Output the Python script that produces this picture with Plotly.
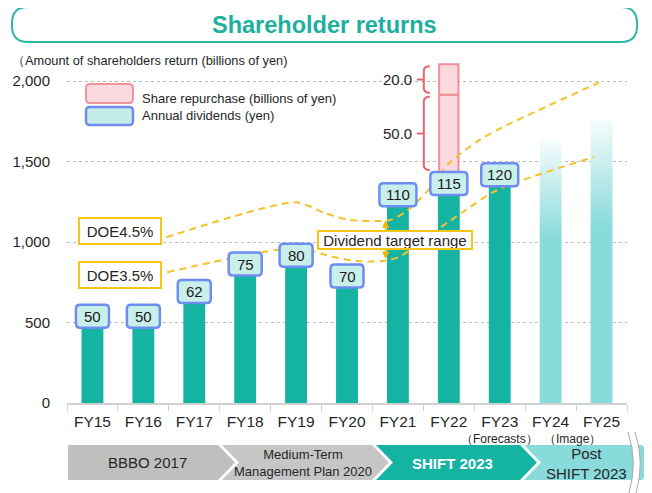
import plotly.graph_objects as go

# ---------------- data ----------------
categories = ["FY15", "FY16", "FY17", "FY18", "FY19", "FY20", "FY21", "FY22", "FY23", "FY24", "FY25"]
returns_actual = [610, 610, 765, 935, 990, 860, 1365, 1435, 1490]      # FY15-FY23
dividend_labels = ["50", "50", "62", "75", "80", "70", "110", "115", "120"]
image_returns = [1630, 1755]                                            # FY24, FY25 (image)
repurchase_heights = [480, 190]                                         # FY22 share repurchase
repurchase_labels = ["50.0", "20.0"]
doe45_x = [1.45, 4.0, 4.55, 5.0, 5.85, 6.2, 6.6, 7.0, 7.6, 8.05, 9.95]
doe45_y = [1030, 1247, 1182, 1140, 1137, 1199, 1324, 1490, 1634, 1713, 1992]
doe35_x = [1.47, 4.0, 4.7, 5.2, 5.7, 6.0, 6.45, 6.85, 7.25, 7.95, 9.85]
doe35_y = [813, 963, 910, 882, 882, 905, 994, 1094, 1181, 1324, 1529]
y_ticks = [0, 500, 1000, 1500, 2000]
y_ticklabels = ["0", "500", "1,000", "1,500", "2,000"]
plans = ["BBBO 2017", "Medium-Term<br>Management Plan 2020", "SHIFT 2023", "Post<br>SHIFT 2023"]

# ---------------- layout helpers ----------------
# the page body has an 8px margin, so the figure is sized to fit the window
W, H = 644, 485
ML, MR, MT, MB = 59, 25, 41, 90
PW, PH = W - ML - MR, H - MT - MB
PX0, PY1 = 67, 403          # plot-area left / bottom in window pixels
FONT = "Liberation Sans, Arial, sans-serif"
TEAL = "#15B3A2"
LTEAL = "#88DADB"
YEL = "#F6C22C"
DARK = "#262626"


def fx(p):
    return (p - PX0) / PW


def fy(p):
    return (PY1 - p) / PH


def rrect(x0, y0, x1, y1, r):
    pts = [
        f"M{fx(x0 + r)},{fy(y0)}", f"L{fx(x1 - r)},{fy(y0)}", f"Q{fx(x1)},{fy(y0)} {fx(x1)},{fy(y0 + r)}",
        f"L{fx(x1)},{fy(y1 - r)}", f"Q{fx(x1)},{fy(y1)} {fx(x1 - r)},{fy(y1)}",
        f"L{fx(x0 + r)},{fy(y1)}", f"Q{fx(x0)},{fy(y1)} {fx(x0)},{fy(y1 - r)}",
        f"L{fx(x0)},{fy(y0 + r)}", f"Q{fx(x0)},{fy(y0)} {fx(x0 + r)},{fy(y0)}", "Z",
    ]
    return " ".join(pts)


def poly(points):
    s = "M" + " L".join(f"{fx(a)},{fy(b)}" for a, b in points)
    return s + " Z"


def ptext(px, py, text, size, color=DARK, anchor="center"):
    return dict(xref="paper", yref="paper", x=fx(px), y=fy(py), xanchor=anchor, yanchor="middle",
                text=text, showarrow=False, font=dict(size=size, color=color, family=FONT))


fig = go.Figure()

# actual bars
fig.add_trace(go.Bar(x=list(range(len(returns_actual))), y=returns_actual, width=0.43,
                     marker=dict(color=TEAL, line=dict(width=0)), hoverinfo="skip"))

# share repurchase (FY22)
i22 = categories.index("FY22")
rep_base = [returns_actual[i22], returns_actual[i22] + repurchase_heights[0]]
fig.add_trace(go.Bar(x=[i22, i22], y=repurchase_heights, base=rep_base, width=0.38,
                     marker=dict(color="#FADADE", line=dict(color="#EE9099", width=2)), hoverinfo="skip"))

# image bars with vertical gradient
hw = 0.43 / 2
for k, v in enumerate(image_returns):
    i = len(returns_actual) + k
    fig.add_trace(go.Scatter(
        x=[i - hw, i + hw, i + hw, i - hw, i - hw], y=[0, 0, v, v, 0],
        fill="toself", mode="none", hoverinfo="skip",
        fillgradient=dict(type="vertical",
                          colorscale=[[0, LTEAL], [0.62, LTEAL], [1, "#F5FCFC"]])))

# DOE lines
for xs, ys in [(doe45_x, doe45_y), (doe35_x, doe35_y)]:
    fig.add_trace(go.Scatter(x=xs, y=ys, mode="lines", hoverinfo="skip",
                             line=dict(color=YEL, width=2, dash="7px,5px", shape="spline", smoothing=0.7)))

shapes = []
annotations = []

# title box
shapes.append(dict(type="path", xref="paper", yref="paper", path=rrect(12, 7, 637, 42, 16),
                   line=dict(color="#2BB6A6", width=2), fillcolor="white"))
annotations.append(ptext(324, 25, "<b>Shareholder returns</b>", 23.5, "#1DB0A0"))
annotations.append(ptext(10, 60, "（Amount of shareholders return (billions of yen)", 12.8, anchor="left"))

# legend
shapes.append(dict(type="path", xref="paper", yref="paper", path=rrect(86, 84, 133, 103, 4),
                   line=dict(color="#F0949C", width=2), fillcolor="#FADADE"))
shapes.append(dict(type="path", xref="paper", yref="paper", path=rrect(86, 107, 133, 125, 4),
                   line=dict(color="#6E8DF0", width=2.5), fillcolor="#C4EDE8"))
annotations.append(ptext(140, 98, "Share repurchase (billions of yen)", 13, anchor="left"))
annotations.append(ptext(140, 115.5, "Annual dividends (yen)", 13, anchor="left"))

# dividend label boxes
for i, (v, t) in enumerate(zip(returns_actual, dividend_labels)):
    w = 33 if len(t) == 2 else 37
    h = 23
    r = 4
    a, b = -w / 2, w / 2
    path = (f"M{a + r},0 L{b - r},0 Q{b},0 {b},{-r} L{b},{-h + r} Q{b},{-h} {b - r},{-h} "
            f"L{a + r},{-h} Q{a},{-h} {a},{-h + r} L{a},{-r} Q{a},0 {a + r},0 Z")
    shapes.append(dict(type="path", xref="x", yref="y", xsizemode="pixel", ysizemode="pixel",
                       xanchor=i, yanchor=v, path=path, layer="above",
                       line=dict(color="#6E8DF0", width=2.5), fillcolor="#C9EFEA"))
    annotations.append(dict(x=i, y=v, yshift=-11.5, text=t, showarrow=False,
                            xanchor="center", yanchor="middle",
                            font=dict(size=15, color="#1A1A1A", family=FONT)))

# braces for repurchase segments
for k, (hgt, lab) in enumerate(zip(repurchase_heights, repurchase_labels)):
    bot = rep_base[k] + 12
    top = rep_base[k] + hgt - 12
    mid = (rep_base[k] + rep_base[k] + hgt) / 2
    d = 30
    path = (f"M-19,{top} Q-25,{top} -25,{top - d} L-25,{bot + d} Q-25,{bot} -19,{bot} "
            f"M-25,{mid} L-32,{mid}")
    shapes.append(dict(type="path", xref="x", yref="y", xsizemode="pixel", ysizemode="scaled",
                       xanchor=i22, path=path, layer="above", line=dict(color="#E9646E", width=2)))
    annotations.append(dict(x=i22, y=mid, xshift=-35, xanchor="right", yanchor="middle", text=lab,
                            showarrow=False, font=dict(size=15, color=DARK, family=FONT)))

# DOE boxes
for txt, yv in [("DOE4.5%", 1069), ("DOE3.5%", 796)]:
    annotations.append(dict(x=0.55, y=yv, text=txt, showarrow=False, width=80, height=24,
                            xanchor="center", yanchor="middle",
                            bgcolor="white", bordercolor="#F5C518", borderwidth=2, borderpad=0,
                            font=dict(size=15, color=DARK, family=FONT)))

# dividend target range arrows + box
annotations.append(dict(x=5.76, y=1135, ax=5.76, ay=885, axref="x", ayref="y", text="",
                        showarrow=True, arrowside="end+start", arrowhead=2, arrowsize=1,
                        arrowwidth=1.5, arrowcolor="#F2B600"))
annotations.append(dict(x=5.95, y=1013, text="Dividend target range", showarrow=False,
                        xanchor="center", yanchor="middle",
                        width=152, height=16, bgcolor="white", bordercolor="#F5C518",
                        borderwidth=2, borderpad=0, font=dict(size=15, color=DARK, family=FONT)))

# x sub-labels
annotations.append(ptext(499, 438.5, "（Forecasts）", 12))
annotations.append(ptext(572, 438.5, "（Image）", 12))

# plan chevrons
T, B, M = 445, 480, 462.5
chev = [
    ([(68, T), (218, T), (235, M), (218, B), (68, B)], "#BFBFBF"),
    ([(222, T), (372, T), (389, M), (372, B), (222, B), (239, M)], "#C6C6C6"),
    ([(376, T), (520, T), (537, M), (520, B), (376, B), (393, M)], TEAL),
    ([(524, T), (642, T), (659, M), (642, B), (524, B), (541, M)], LTEAL),
]
for pts, col in chev:
    shapes.append(dict(type="path", xref="paper", yref="paper", path=poly(pts),
                       fillcolor=col, line=dict(width=0)))
plan_pos = [(147, 462, DARK, 15, False), (303, 463, DARK, 13, False),
            (452, 463, "white", 15, True), (586, 463, DARK, 15, False)]
for txt, (px, py, c, s, bold) in zip(plans, plan_pos):
    annotations.append(ptext(px, py, (f"<b>{txt}</b>" if bold else txt), s, c))

# break mark
shapes.append(dict(type="path", xref="paper", yref="paper",
                   path=f"M{fx(628)},{fy(432)} Q{fx(638)},{fy(462)} {fx(629)},{fy(493)} "
                        f"L{fx(636)},{fy(493)} Q{fx(645)},{fy(462)} {fx(635)},{fy(432)} Z",
                   fillcolor="white", line=dict(width=0)))
for off in (0, 7):
    shapes.append(dict(type="path", xref="paper", yref="paper",
                       path=f"M{fx(628 + off)},{fy(432)} Q{fx(638 + off)},{fy(462)} {fx(629 + off)},{fy(493)}",
                       line=dict(color="#A8A8A8", width=1)))

fig.update_layout(
    width=W, height=H, margin=dict(l=ML, r=MR, t=MT, b=MB, pad=0, autoexpand=False),
    paper_bgcolor="white", plot_bgcolor="white", showlegend=False, barmode="overlay",
    font=dict(family=FONT, color=DARK),
    shapes=shapes, annotations=annotations,
    xaxis=dict(range=[-0.5, 10.5], tickvals=list(range(len(categories))), ticktext=categories,
               automargin=False,
               showgrid=False, zeroline=False, showline=True, linecolor="#D0D0D0", linewidth=1.5,
               ticks="", ticklabelstandoff=4, tickfont=dict(size=15.5, color=DARK, family=FONT),
               minor=dict(ticks="outside", ticklen=6, tickcolor="#D0D0D0", tick0=0.5, dtick=1,
                          showgrid=False),
               fixedrange=True),
    yaxis=dict(range=[0, 2200], tickvals=y_ticks, ticktext=y_ticklabels, showgrid=True,
               automargin=False,
               gridcolor="#BDBDBD", griddash="dot", gridwidth=1, zeroline=False, showline=False,
               ticks="", ticklabelstandoff=16, tickfont=dict(size=15, color=DARK, family=FONT),
               fixedrange=True),
)

fig.write_html("out.html")
